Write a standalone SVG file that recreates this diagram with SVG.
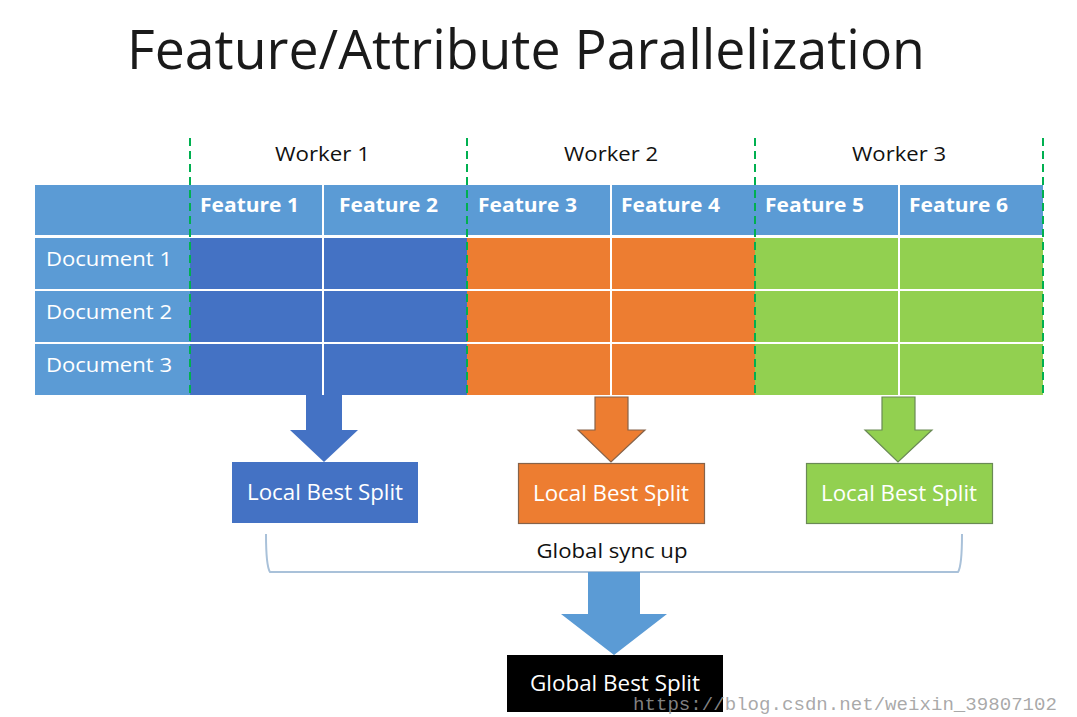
<svg xmlns="http://www.w3.org/2000/svg" width="1077" height="717" viewBox="0 0 1077 717">
<style>
.title{font-family:"Open Sans","Liberation Sans",sans-serif;font-weight:400;font-size:54px;fill:#1a1a1a}
.worker{font-family:"Open Sans","Liberation Sans",sans-serif;font-size:20px;fill:#111}
.feat{font-family:"Open Sans","Liberation Sans",sans-serif;font-weight:700;font-size:19.5px;fill:#fff}
.doc{font-family:"Open Sans","Liberation Sans",sans-serif;font-size:20.5px;fill:#fff}
.lbl{font-family:"Open Sans","Liberation Sans",sans-serif;font-size:21px;fill:#fff}
.sync{font-family:"Open Sans","Liberation Sans",sans-serif;font-size:20px;fill:#111}
.hdr{fill:#5B9BD5}
.sep{stroke:#fff;stroke-width:2}
.dash{stroke:#00B050;stroke-width:2;stroke-dasharray:8 5}
.wm{font-family:"Liberation Mono",monospace;font-size:19px;fill:#9a9a9a;fill-opacity:0.85}
</style>
<rect width="1077" height="717" fill="#fff"/>
<text class="title" x="127" y="69" textLength="798" lengthAdjust="spacingAndGlyphs">Feature/Attribute Parallelization</text>

<g id="table">
<rect class="hdr" x="35" y="185" width="1008" height="50"/>
<rect class="hdr" x="35" y="238" width="155" height="157"/>
<rect x="190" y="238" width="277" height="157" fill="#4472C4"/>
<rect x="467" y="238" width="288" height="157" fill="#ED7D31"/>
<rect x="755" y="238" width="288" height="157" fill="#92D050"/>
<line class="sep" x1="35" y1="290" x2="1043" y2="290"/>
<line class="sep" x1="35" y1="343" x2="1043" y2="343"/>
<line class="sep" x1="323" y1="185" x2="323" y2="395"/>
<line class="sep" x1="611" y1="185" x2="611" y2="395"/>
<line class="sep" x1="899" y1="185" x2="899" y2="395"/>
<text class="feat" x="200" y="212" textLength="99" lengthAdjust="spacingAndGlyphs">Feature 1</text>
<text class="feat" x="339" y="212" textLength="99" lengthAdjust="spacingAndGlyphs">Feature 2</text>
<text class="feat" x="478" y="212" textLength="99" lengthAdjust="spacingAndGlyphs">Feature 3</text>
<text class="feat" x="621" y="212" textLength="99" lengthAdjust="spacingAndGlyphs">Feature 4</text>
<text class="feat" x="765" y="212" textLength="99" lengthAdjust="spacingAndGlyphs">Feature 5</text>
<text class="feat" x="909" y="212" textLength="99" lengthAdjust="spacingAndGlyphs">Feature 6</text>
<text class="doc" x="46" y="266" textLength="126" lengthAdjust="spacingAndGlyphs">Document 1</text>
<text class="doc" x="46" y="319" textLength="126" lengthAdjust="spacingAndGlyphs">Document 2</text>
<text class="doc" x="46" y="372" textLength="126" lengthAdjust="spacingAndGlyphs">Document 3</text>
</g>

<g id="workers">
<line class="dash" x1="190" y1="138" x2="190" y2="395"/>
<line class="dash" x1="467" y1="138" x2="467" y2="395"/>
<line class="dash" x1="755" y1="138" x2="755" y2="395"/>
<line class="dash" x1="1043" y1="138" x2="1043" y2="395"/>
<text class="worker" x="275" y="161" textLength="95" lengthAdjust="spacingAndGlyphs">Worker 1</text>
<text class="worker" x="564" y="161" textLength="94" lengthAdjust="spacingAndGlyphs">Worker 2</text>
<text class="worker" x="852" y="161" textLength="94" lengthAdjust="spacingAndGlyphs">Worker 3</text>
</g>

<g id="connectors">
<polygon points="306,395 342,395 342,430 358,430 324,462 290,430 306,430" fill="#4472C4"/>
<polygon points="595,397 628,397 628,430 645,430 611,462 578,430 595,430" fill="#ED7D31" stroke="#86634a" stroke-width="1.2"/>
<polygon points="882,397 915,397 915,430 932,430 898,462 865,430 882,430" fill="#92D050" stroke="#6a8a55" stroke-width="1.2"/>
<path d="M266,534 Q266,566 270,572 L958,572 Q962,566 962,534" fill="none" stroke="#a9c1d9" stroke-width="2"/>
<polygon points="588,572 640,572 640,614 667,614 614,655 561,614 588,614" fill="#5B9BD5"/>
</g>

<g id="local1">
<rect x="232" y="462" width="186" height="61" fill="#4472C4"/>
<text class="lbl" x="325" y="500" text-anchor="middle" textLength="156" lengthAdjust="spacingAndGlyphs">Local Best Split</text>
</g>
<g id="local2">
<rect x="518.5" y="463.5" width="186" height="60" fill="#ED7D31" stroke="#86634a" stroke-width="1.2"/>
<text class="lbl" x="611" y="501" text-anchor="middle" textLength="156" lengthAdjust="spacingAndGlyphs">Local Best Split</text>
</g>
<g id="local3">
<rect x="806.5" y="463.5" width="186" height="60" fill="#92D050" stroke="#6a8a55" stroke-width="1.2"/>
<text class="lbl" x="899" y="501" text-anchor="middle" textLength="156" lengthAdjust="spacingAndGlyphs">Local Best Split</text>
</g>

<g id="sync">
<text class="sync" x="612" y="558" text-anchor="middle" textLength="151" lengthAdjust="spacingAndGlyphs">Global sync up</text>
</g>

<g id="global">
<rect x="507" y="655" width="216" height="57" fill="#000"/>
<text class="lbl" x="615" y="691" text-anchor="middle" textLength="170" lengthAdjust="spacingAndGlyphs" font-size="22">Global Best Split</text>
</g>

<text class="wm" x="633" y="710" textLength="424" lengthAdjust="spacingAndGlyphs">https://blog.csdn.net/weixin_39807102</text>
</svg>
